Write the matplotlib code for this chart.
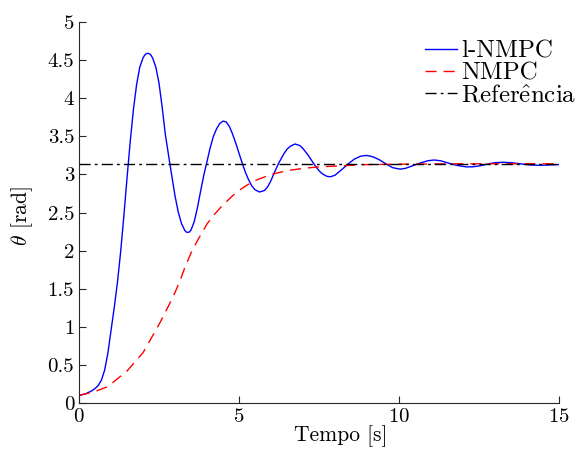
import numpy as np
import matplotlib
matplotlib.use('Agg')
import matplotlib.pyplot as plt

# valores
t_lnmpc = [0, 0.2, 0.4, 0.5, 0.6, 0.7, 0.8, 0.9, 1.0, 1.1, 1.2, 1.3, 1.4, 1.5,
           1.6, 1.7, 1.8, 1.9, 2.0, 2.05, 2.1, 2.15, 2.2, 2.25, 2.3, 2.4, 2.5,
           2.6, 2.7, 2.84, 3.0, 3.1, 3.2, 3.3, 3.35, 3.4, 3.45, 3.5, 3.6, 3.7,
           3.8, 3.9, 4.0, 4.1, 4.2, 4.3, 4.4, 4.5, 4.6, 4.7, 4.8, 4.9, 5.0,
           5.1, 5.2, 5.3, 5.4, 5.5, 5.64, 5.8, 5.9, 6.0, 6.1, 6.23, 6.4, 6.5,
           6.6, 6.75, 6.9, 7.0, 7.15, 7.34, 7.5, 7.6, 7.75, 7.86, 8.0, 8.2,
           8.42, 8.6, 8.8, 9.0, 9.2, 9.4, 9.59, 9.8, 10.03, 10.2, 10.4, 10.66,
           10.9, 11.1, 11.3, 11.5, 11.8, 12.1, 12.3, 12.55, 12.8, 13.0, 13.25,
           13.5, 13.8, 14.1, 14.4, 14.7, 15.0]
y_lnmpc = [0.10, 0.12, 0.16, 0.19, 0.23, 0.30, 0.43, 0.65, 0.95, 1.25, 1.58,
           1.98, 2.45, 2.95, 3.43, 3.85, 4.18, 4.41, 4.53, 4.565, 4.585, 4.59,
           4.585, 4.565, 4.53, 4.41, 4.20, 3.88, 3.52, 3.14, 2.72, 2.51, 2.36,
           2.27, 2.245, 2.24, 2.245, 2.27, 2.38, 2.56, 2.78, 2.99, 3.17, 3.35,
           3.50, 3.60, 3.67, 3.70, 3.69, 3.63, 3.53, 3.41, 3.28, 3.15, 3.03,
           2.93, 2.85, 2.80, 2.77, 2.79, 2.84, 2.92, 3.02, 3.14, 3.27, 3.33,
           3.37, 3.40, 3.38, 3.34, 3.26, 3.14, 3.05, 3.01, 2.975, 2.97, 2.99,
           3.06, 3.14, 3.20, 3.24, 3.25, 3.23, 3.19, 3.14, 3.09, 3.07, 3.08,
           3.11, 3.15, 3.18, 3.19, 3.18, 3.155, 3.12, 3.10, 3.10, 3.115, 3.14,
           3.155, 3.16, 3.155, 3.14, 3.125, 3.12, 3.125, 3.13]

t_nmpc = [0, 0.5, 0.86, 1.0, 1.5, 2.0, 2.5, 2.84, 3.0, 3.16, 3.31, 3.5, 3.7,
          3.89, 4.0, 4.2, 4.41, 4.6, 4.8, 5.0, 5.25, 5.5, 5.75, 6.0, 6.5, 7.0,
          7.5, 8.0, 8.5, 9.0, 10.0, 11.0, 12.0, 13.0, 14.0, 15.0]
y_nmpc = [0.10, 0.15, 0.21, 0.25, 0.42, 0.66, 1.03, 1.31, 1.45, 1.61, 1.78,
          1.97, 2.13, 2.27, 2.35, 2.46, 2.56, 2.64, 2.72, 2.79, 2.86, 2.92,
          2.96, 3.00, 3.05, 3.08, 3.10, 3.11, 3.12, 3.13, 3.135, 3.138, 3.14,
          3.14, 3.14, 3.14]

referencia = np.pi
xlim = (0, 15)
ylim = (0, 5)

plt.rcParams['font.family'] = 'serif'
plt.rcParams['font.serif'] = ['cmr10']
plt.rcParams['mathtext.fontset'] = 'cm'
plt.rcParams['axes.formatter.use_mathtext'] = True

fig = plt.figure(figsize=(5.81, 4.54), dpi=100)
ax = fig.add_axes([0.136, 0.1123, 0.826, 0.839])

ax.plot(t_lnmpc, y_lnmpc, color='blue', lw=1.0, label='l-NMPC')
ax.plot(t_nmpc, y_nmpc, color='red', lw=1.0, dashes=(8, 5), label='NMPC')
ax.plot(xlim, [referencia, referencia], color='black', lw=1.0,
        dashes=(8, 3, 2, 3), label=r'Refer$\hat{\mathrm{e}}$ncia')

ax.set_xlim(*xlim)
ax.set_ylim(*ylim)
ax.set_xticks([0, 5, 10, 15])
ax.set_yticks(np.arange(0, 5.01, 0.5))
ax.set_yticklabels(['0', '0.5', '1', '1.5', '2', '2.5', '3', '3.5', '4', '4.5', '5'])
ax.tick_params(direction='in', length=5, width=0.8, labelsize=15, colors='#262626',
               labelcolor='black')
for s in ['top', 'right']:
    ax.spines[s].set_visible(False)
for s in ['left', 'bottom']:
    ax.spines[s].set_color('#262626')
    ax.spines[s].set_linewidth(0.8)

ax.set_xlabel('Tempo [s]', fontsize=15.5)
ax.xaxis.set_label_coords(0.546, -0.088)
ax.xaxis.label.set_va('center')
ax.set_ylabel(r'$\theta$ [rad]', fontsize=15.5)
ax.yaxis.set_label_coords(-0.119, 0.49)
ax.yaxis.label.set_va('center')

ax.legend(loc='upper right', bbox_to_anchor=(1.058, 0.978), frameon=False,
          fontsize=18, handlelength=1.28, handletextpad=0.16, labelspacing=-0.02,
          borderaxespad=0)

fig.savefig('out.png', dpi=100)
